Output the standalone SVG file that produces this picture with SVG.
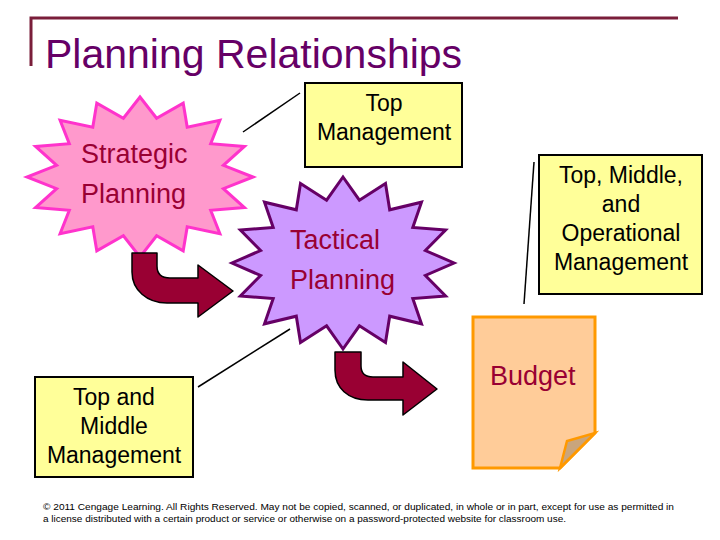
<svg xmlns="http://www.w3.org/2000/svg" width="720" height="540" viewBox="0 0 720 540">
<style>
text{font-family:"Liberation Sans",Arial,sans-serif}
.box{fill:#FFFF99;stroke:#000;stroke-width:2}
.bt{font-size:23px;fill:#000;text-anchor:middle}
.st{font-size:27px;fill:#990033}
.arrow{fill:#990033;stroke:#000;stroke-width:1.5;stroke-linejoin:round}
.conn{stroke:#000;stroke-width:1.5;fill:none}
</style>
<rect width="720" height="540" fill="#fff"/>
<g id="title">
<path d="M31,66 V18 H678" fill="none" stroke="#7A1E3A" stroke-width="3"/>
<text x="45" y="68" font-size="41" fill="#660066">Planning Relationships</text>
</g>
<g id="strategic">
<polygon fill="#FF99CC" stroke="#FF33CC" stroke-width="3" points="140,97 156.6,118.2 183.2,103.1 187.2,127.1 219.9,120.4 210.7,143.7 244.4,146.4 223.4,165.3 253,177 223.4,188.7 244.4,207.6 210.7,210.3 219.9,233.6 187.2,226.9 183.2,250.9 156.6,235.8 140,257 123.4,235.8 96.8,250.9 92.8,226.9 60.1,233.6 69.3,210.3 35.6,207.6 56.6,188.7 27,177 56.6,165.3 35.6,146.4 69.3,143.7 60.1,120.4 92.8,127.1 96.8,103.1 123.4,118.2"/>
<text class="st" x="81" y="163">Strategic</text>
<text class="st" x="81" y="203">Planning</text>
</g>
<g id="tactical">
<polygon fill="#CC99FF" stroke="#660066" stroke-width="3" points="343,177 359.4,200.2 385.5,183.5 389.7,209.8 421.5,202.2 412.8,227.4 445.6,230.1 425.4,250.5 454,263 425.4,275.5 445.6,295.9 412.8,298.6 421.5,323.8 389.7,316.2 385.5,342.5 359.4,325.8 343,349 326.6,325.8 300.5,342.5 296.3,316.2 264.5,323.8 273.2,298.6 240.4,295.9 260.6,275.5 232,263 260.6,250.5 240.4,230.1 273.2,227.4 264.5,202.2 296.3,209.8 300.5,183.5 326.6,200.2"/>
<text class="st" x="290" y="249">Tactical</text>
<text class="st" x="290" y="289">Planning</text>
</g>
<g id="topmgmt">
<rect class="box" x="305" y="83" width="157" height="84"/>
<text class="bt" x="384" y="111">Top</text>
<text class="bt" x="384" y="140">Management</text>
</g>
<g id="allmgmt">
<rect class="box" x="539" y="155" width="163" height="139"/>
<text class="bt" x="621" y="183">Top, Middle,</text>
<text class="bt" x="621" y="212">and</text>
<text class="bt" x="621" y="241">Operational</text>
<text class="bt" x="621" y="270">Management</text>
</g>
<g id="topmiddle">
<rect class="box" x="35" y="377" width="158" height="100"/>
<text class="bt" x="114" y="405">Top and</text>
<text class="bt" x="114" y="434">Middle</text>
<text class="bt" x="114" y="463">Management</text>
</g>
<g id="budget">
<path d="M473,317 H595 V433 L560,468 H473 Z" fill="#FFCC99" stroke="#FF9900" stroke-width="3" stroke-linejoin="miter"/>
<path d="M595,433 L560,468 L567,441 Z" fill="#C9A57C" stroke="#FF9900" stroke-width="2.5"/>
<text class="st" x="490" y="385">Budget</text>
</g>
<g id="connectors">
<line class="conn" x1="243" y1="132" x2="300" y2="93"/>
<line class="conn" x1="524" y1="304" x2="534" y2="162"/>
<line class="conn" x1="198" y1="387" x2="290" y2="329"/>
<path class="arrow" d="M132,253 L157,253 L157,266 Q157,278 170,278 L198,278 L198,265 L233,291 L198,317 L198,303 L167,303 C147,303 132,290 132,272 Z"/>
<path class="arrow" d="M335,352 L361,352 L361,366 Q361,377 373,377 L403,377 L403,362 L437,389 L403,415 L403,400 L368,400 C348,400 335,388 335,370 Z"/>
</g>
<g id="footer">
<text x="43" y="510" font-size="9.5" fill="#000" textLength="631" lengthAdjust="spacingAndGlyphs">© 2011 Cengage Learning.  All Rights Reserved.  May not be copied, scanned, or duplicated, in whole or in part, except for use as permitted in</text>
<text x="43" y="522" font-size="9.5" fill="#000" textLength="523" lengthAdjust="spacingAndGlyphs">a license distributed with a certain product or service or otherwise on a password-protected website for classroom use.</text>
</g>
</svg>
